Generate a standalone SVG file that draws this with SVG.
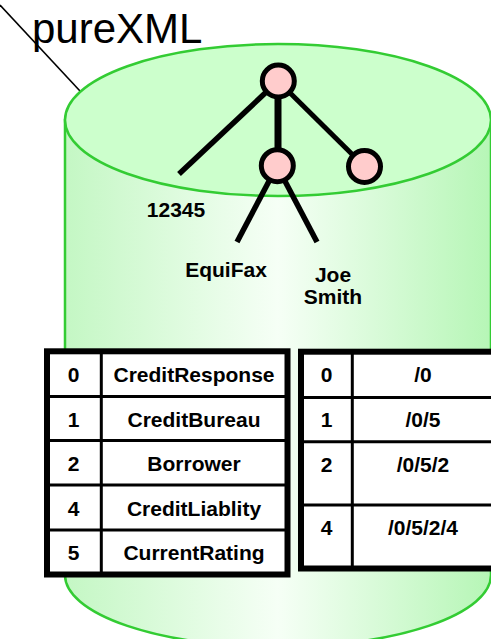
<svg xmlns="http://www.w3.org/2000/svg" width="491" height="639" viewBox="0 0 491 639">
<style>
.t{font-family:"Liberation Sans",Arial,sans-serif;font-weight:bold;font-size:21px;fill:#000;text-anchor:middle}
.cyl{stroke:#33cc33;stroke-width:2.5}
.edge{stroke:#000;stroke-linecap:butt;fill:none}
.node{fill:#ffcccc;stroke:#000;stroke-width:5}
.frame{fill:#fff;stroke:#000;stroke-width:6}
.grid{stroke:#000;stroke-width:3}
</style>
<defs>
<linearGradient id="body" x1="65" y1="0" x2="491" y2="0" gradientUnits="userSpaceOnUse">
<stop offset="0" stop-color="#c4f7c4"/>
<stop offset="0.5" stop-color="#f6fff6"/>
<stop offset="1" stop-color="#b6f6b6"/>
</linearGradient>
</defs>
<g id="pointer">
<line x1="0" y1="5" x2="80" y2="91" stroke="#000" stroke-width="1.6"/>
</g>
<g id="cylinder">
<path class="cyl" d="M65,120 L65,575 A213 72 0 0 0 491,575 L491,120 Z" fill="url(#body)"/>
<ellipse class="cyl" cx="278" cy="120" rx="213" ry="76" fill="#ccffcc"/>
</g>
<g id="title">
<text x="32" y="43" font-family="'Liberation Sans',Arial,sans-serif" font-size="42" fill="#000">pureXML</text>
</g>
<g id="connectors">
<line class="edge" x1="278" y1="81" x2="179" y2="174" stroke-width="5.5"/>
<line class="edge" x1="278" y1="81" x2="278" y2="166" stroke-width="7"/>
<line class="edge" x1="278" y1="81" x2="364.5" y2="166.5" stroke-width="5"/>
<line class="edge" x1="277" y1="166" x2="237" y2="242" stroke-width="5.5"/>
<line class="edge" x1="277" y1="166" x2="317" y2="242" stroke-width="5.5"/>
</g>
<g id="node-root"><circle class="node" cx="278.3" cy="81" r="16"/></g>
<g id="node-mid"><circle class="node" cx="277.3" cy="165.7" r="16"/></g>
<g id="node-right"><circle class="node" cx="364.5" cy="166.5" r="16"/></g>
<g id="label-12345"><text class="t" x="176" y="217">12345</text></g>
<g id="label-equifax"><text class="t" x="226" y="277">EquiFax</text></g>
<g id="label-joe"><text class="t" x="333" y="282">Joe</text><text class="t" x="333" y="304">Smith</text></g>
<g id="table-names">
<rect class="frame" x="47" y="351.3" width="240.5" height="223.2"/>
<line class="grid" x1="101.3" y1="351" x2="101.3" y2="574"/>
<line class="grid" x1="47" y1="396.5" x2="287.5" y2="396.5"/>
<line class="grid" x1="47" y1="440.5" x2="287.5" y2="440.5"/>
<line class="grid" x1="47" y1="485" x2="287.5" y2="485"/>
<line class="grid" x1="47" y1="530" x2="287.5" y2="530"/>
<text class="t" x="73.5" y="382">0</text><text class="t" x="194" y="382">CreditResponse</text>
<text class="t" x="73.5" y="426.5">1</text><text class="t" x="194" y="426.5">CreditBureau</text>
<text class="t" x="73.5" y="471">2</text><text class="t" x="194" y="471">Borrower</text>
<text class="t" x="73.5" y="515.7">4</text><text class="t" x="194" y="515.7">CreditLiablity</text>
<text class="t" x="73.5" y="560">5</text><text class="t" x="194" y="560">CurrentRating</text>
</g>
<g id="table-paths">
<rect class="frame" x="301" y="351.7" width="200" height="216.8"/>
<line class="grid" x1="352.3" y1="351" x2="352.3" y2="568"/>
<line class="grid" x1="301" y1="397.5" x2="495" y2="397.5"/>
<line class="grid" x1="301" y1="441.7" x2="495" y2="441.7"/>
<line class="grid" x1="301" y1="505" x2="495" y2="505"/>
<text class="t" x="326.5" y="382">0</text><text class="t" x="423" y="382">/0</text>
<text class="t" x="326.5" y="426.7">1</text><text class="t" x="423" y="426.7">/0/5</text>
<text class="t" x="326.5" y="471.7">2</text><text class="t" x="423" y="471.7">/0/5/2</text>
<text class="t" x="326.5" y="535">4</text><text class="t" x="423" y="535">/0/5/2/4</text>
</g>
</svg>
